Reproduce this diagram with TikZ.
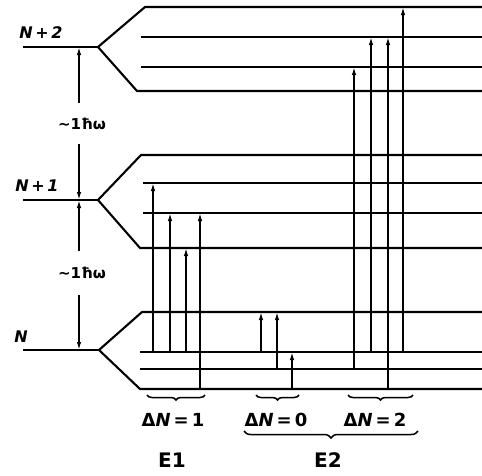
\documentclass[tikz,border=0pt]{standalone}
\usepackage{fontspec}
\setmainfont{DejaVu Sans}
\usetikzlibrary{arrows.meta,decorations.pathreplacing}
\begin{document}
\begin{tikzpicture}[x=1pt,y=-1pt,
  lvl/.style={line width=2.1pt},
  tr/.style={line width=1.5pt,-{Latex[length=8pt,width=4.5pt]}},
  lab/.style={font=\fontsize{16}{16}\selectfont\bfseries\itshape, inner sep=0pt},
  wlab/.style={font=\fontsize{15}{15}\selectfont\bfseries, inner sep=0pt},
  dlab/.style={font=\fontsize{18}{18}\selectfont\bfseries, inner sep=0pt},
  elab/.style={font=\fontsize{20}{20}\selectfont\bfseries, inner sep=0pt},
  brc/.style={decorate,decoration={brace,mirror,amplitude=5pt},line width=1.5pt}]
\useasboundingbox (0,0) rectangle (482,475);
% ---------- N+2 group
\draw[lvl] (23,47) -- (98,47);
\draw[lvl] (98,47) -- (145,7) -- (482,7);
\draw[lvl] (98,47) -- (137,91) -- (482,91);
\draw[lvl] (141,37) -- (482,37);
\draw[lvl] (141,67) -- (482,67);
% ---------- N+1 group
\draw[lvl] (23,200) -- (98,200);
\draw[lvl] (98,200) -- (141,155) -- (482,155);
\draw[lvl] (98,200) -- (140,248) -- (482,248);
\draw[lvl] (143,183) -- (482,183);
\draw[lvl] (143,213) -- (482,213);
% ---------- N group
\draw[lvl] (23,350) -- (99,350);
\draw[lvl] (99,350) -- (142,312) -- (482,312);
\draw[lvl] (99,350) -- (140,389) -- (482,389);
\draw[lvl] (140,352) -- (482,352);
\draw[lvl] (140,369) -- (482,369);
% ---------- level labels
\node[lab] (n2) at (41,33) {N\,+\,2};
\node[lab] (n1) at (37,186) {N\,+\,1};
\node[lab] (n0) at (21,337) {N};
% ---------- spacing arrows
\node[wlab] (w1) at (82,124) {\textasciitilde 1ħω};
\node[wlab] (w2) at (82,273) {\textasciitilde 1ħω};
\coordinate (a1) at (79,47);
\coordinate (a2) at (79,200);
\coordinate (a3) at (79,350);
\draw[tr] (79,103) -- (a1);
\draw[tr] (79,144) -- (a2);
\draw[tr] (79,251) -- (a2);
\draw[tr] (79,295) -- (a3);
% ---------- E1, Delta N = 1
\draw[tr] (153,352) -- (153,183);
\draw[tr] (170,352) -- (170,213);
\draw[tr] (186,352) -- (186,248);
\draw[tr] (200,389) -- (200,213);
% ---------- Delta N = 0
\draw[tr] (261,352) -- (261,312);
\draw[tr] (277,369) -- (277,312);
\draw[tr] (292,389) -- (292,352);
% ---------- Delta N = 2
\draw[tr] (354,369) -- (354,67);
\draw[tr] (371,352) -- (371,37);
\draw[tr] (388,389) -- (388,37);
\draw[tr] (403,352) -- (403,7);
% ---------- braces
\draw[brc] (147,395) -- (205,395);
\draw[brc] (256,395) -- (299,395);
\draw[brc] (348,395) -- (413,395);
\draw[brc,decoration={brace,mirror,amplitude=7pt}] (244,431) -- (418,431);
\node[dlab] (d1) at (173,420) {Δ\textit{N}\,=\,1};
\node[dlab] (d0) at (276,420) {Δ\textit{N}\,=\,0};
\node[dlab] (d2) at (375,420) {Δ\textit{N}\,=\,2};
\node[elab] (e1) at (172,460) {E1};
\node[elab] (e2) at (328,460) {E2};
\end{tikzpicture}
\end{document}
